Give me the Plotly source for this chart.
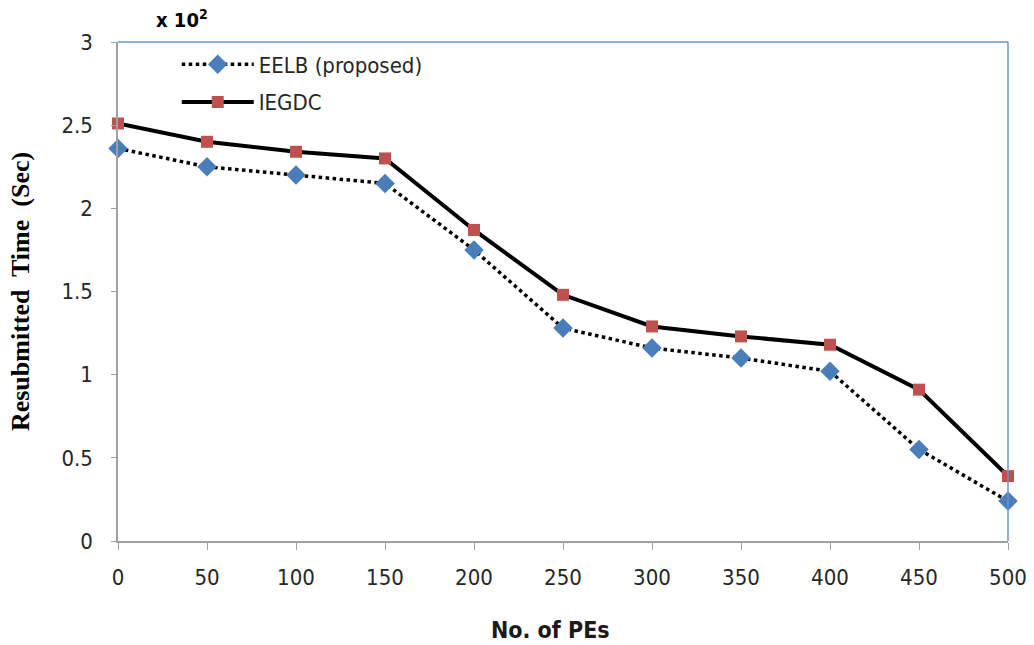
import plotly.graph_objects as go

# Number of processing elements
pes = [0, 50, 100, 150, 200, 250, 300, 350, 400, 450, 500]

# Resubmitted time (x 10^2 sec)
eelb = [2.36, 2.25, 2.20, 2.15, 1.75, 1.28, 1.16, 1.10, 1.02, 0.55, 0.24]
iegdc = [2.51, 2.40, 2.34, 2.30, 1.87, 1.48, 1.29, 1.23, 1.18, 0.91, 0.39]

y_ticks = [0, 0.5, 1, 1.5, 2, 2.5, 3]

sans = "DejaVu Sans Condensed, Liberation Sans, sans-serif"
label_font = dict(family=sans, size=22, color="#262626")

fig = go.Figure()
fig.add_trace(go.Scatter(
    x=pes, y=eelb, name="EELB (proposed)", mode="lines+markers",
    legendgroup="eelb", cliponaxis=False,
    line=dict(color="black", width=3.5, dash="dot"),
    marker=dict(symbol="diamond", size=15, color="#4A7EBB"),
))
fig.add_trace(go.Scatter(
    x=pes, y=iegdc, name="IEGDC", mode="lines+markers",
    legendgroup="iegdc", cliponaxis=False,
    line=dict(color="black", width=4),
    marker=dict(symbol="square", size=12, color="#C0504D"),
))

fig.update_layout(
    width=1034, height=645,
    margin=dict(l=118, r=26, t=42, b=104, autoexpand=False),
    paper_bgcolor="white", plot_bgcolor="white",
    showlegend=True,
    legend=dict(
        x=0.066, y=0.997, xanchor="left", yanchor="top",
        font=label_font, itemwidth=72, tracegroupgap=6,
        bgcolor="rgba(0,0,0,0)",
    ),
    xaxis=dict(
        range=[0, 500], tickvals=pes, showgrid=False, zeroline=False,
        showline=True, linecolor="#A0A0A0", linewidth=1.5,
        ticks="outside", ticklen=7, tickcolor="#A0A0A0",
        tickfont=label_font, ticklabelstandoff=9, automargin=False,
    ),
    yaxis=dict(
        range=[0, 3], tickvals=y_ticks, showgrid=False, zeroline=False,
        showline=True, linecolor="#A0A0A0", linewidth=1.5,
        ticks="outside", ticklen=5, tickcolor="#A0A0A0",
        tickfont=label_font, ticklabelstandoff=14, automargin=False,
        title=dict(text="<b>Resubmitted  Time  (Sec)</b>", font=dict(family="Liberation Serif, Times New Roman, serif", size=26, color="black"), standoff=24),
    ),
    shapes=[
        dict(type="line", xref="paper", yref="paper", x0=0, x1=1, y0=1, y1=1, line=dict(color="#6A96D0", width=1.5)),
        dict(type="line", xref="paper", yref="paper", x0=1, x1=1, y0=0, y1=1, line=dict(color="#6A96D0", width=1.5)),
    ],
    annotations=[
        dict(text="<b>x 10<sup>2</sup></b>", xref="paper", yref="paper", x=0.041, y=1.046,
             xanchor="left", yanchor="middle", showarrow=False,
             font=dict(family=sans, size=20, color="black")),
        dict(text="<b>No. of PEs</b>", xref="paper", yref="paper", x=0.4865, y=-0.178,
             xanchor="center", yanchor="middle", showarrow=False,
             font=dict(family=sans, size=23, color="#1a1a1a")),
    ],
)

fig.write_html("out.html")
